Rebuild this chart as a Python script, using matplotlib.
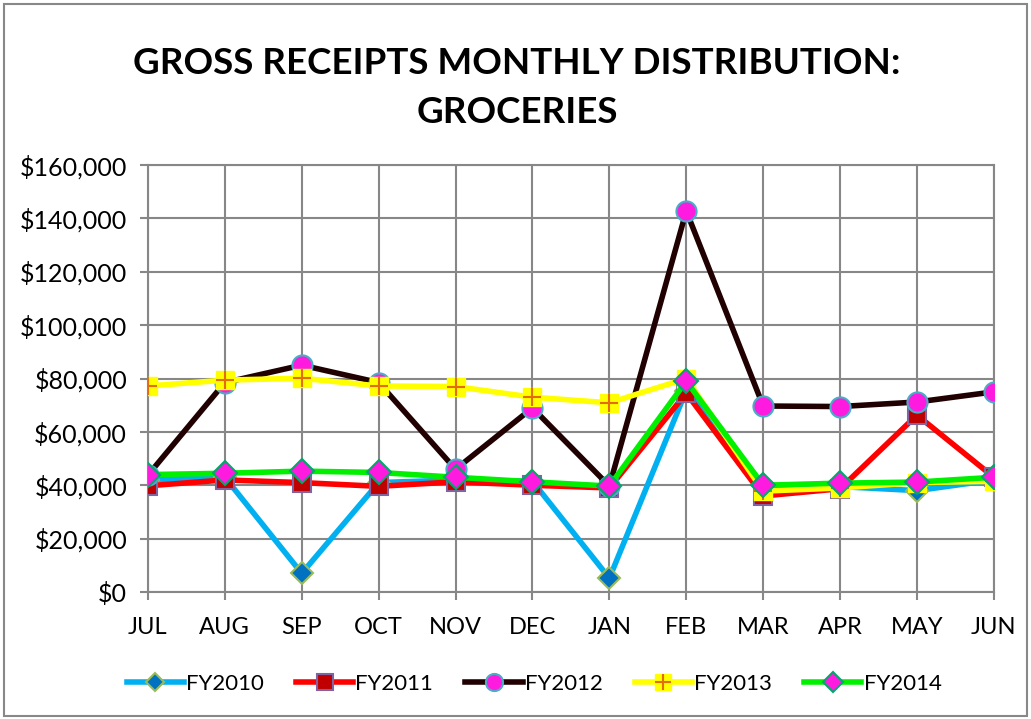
import matplotlib
matplotlib.use("Agg")
import matplotlib.pyplot as plt
from matplotlib.patches import Rectangle
from matplotlib.legend_handler import HandlerTuple

months = ["JUL", "AUG", "SEP", "OCT", "NOV", "DEC", "JAN", "FEB", "MAR", "APR", "MAY", "JUN"]
fy2010 = [42000, 43000, 7000, 41000, 42000, 41500, 5200, 75500, 40000, 39500, 38000, 42000]
fy2011 = [39800, 42000, 41000, 39600, 41300, 40000, 39000, 74500, 36000, 38700, 66300, 43000]
fy2012 = [43800, 78500, 85000, 78500, 46000, 69000, 39700, 142800, 69700, 69500, 71200, 75000]
fy2013 = [77200, 79400, 80100, 77200, 77000, 73000, 70900, 80000, 37800, 39000, 41000, 41500]
fy2014 = [44000, 44500, 45300, 44800, 43000, 41300, 39700, 79000, 40000, 40800, 41200, 43000]
yticks = [0, 20000, 40000, 60000, 80000, 100000, 120000, 140000, 160000]

plt.rcParams['font.family'] = ['Lato', 'DejaVu Sans']

fig = plt.figure(figsize=(10.31, 7.19), dpi=100)
fig.patches.append(Rectangle((0.004, 0.004), 0.992, 0.990, transform=fig.transFigure,
                             fill=False, edgecolor='#888888', linewidth=1.5))
ax = fig.add_axes([0.1435, 0.1766, 0.8205, 0.5939])
x = list(range(len(months)))

lw = 4
h10, = ax.plot(x, fy2010, color='#00B0F0', lw=lw, marker='D', ms=11,
               mfc='#0070C0', mec='#9BBB59', mew=1.5, zorder=3)
h11, = ax.plot(x, fy2011, color='#FF0000', lw=lw, marker='s', ms=13,
               mfc='#C00000', mec='#8064A2', mew=1.5, zorder=4)
h12, = ax.plot(x, fy2012, color='#200000', lw=lw, marker='o', ms=14.5,
               mfc='#FF1AE0', mec='#4BACC6', mew=1.5, zorder=5)
h13, = ax.plot(x, fy2013, color='#FFFF00', lw=lw, marker='s', ms=13,
               mfc='#FFFF00', mec='#FFFF00', mew=1, zorder=6)
h13p, = ax.plot(x, fy2013, ls='none', marker='+', ms=13, mec='#E46C0A', mew=1.5, zorder=6.1)
h14, = ax.plot(x, fy2014, color='#00F000', lw=lw, marker='D', ms=12,
               mfc='#FF1AE0', mec='#00A86B', mew=1.5, zorder=7)

ax.set_xlim(0, 11)
ax.set_ylim(0, 160000)
ax.set_yticks(yticks)
ax.set_yticklabels([f"${v:,.0f}" for v in yticks], fontsize=18)
ax.set_xticks(x)
ax.set_xticklabels(months, fontsize=17)
ax.grid(True, color='#878787', lw=1.5)
ax.set_axisbelow(True)
for s in ax.spines.values():
    s.set_color('#878787')
    s.set_linewidth(1.5)
ax.tick_params(axis='both', color='#878787', width=1.5, length=6)
ax.tick_params(axis='y', pad=9)
ax.tick_params(axis='x', pad=12)

fig.text(0.5014, 0.8776, "GROSS RECEIPTS MONTHLY DISTRIBUTION:\nGROCERIES",
         ha='center', va='center', fontsize=26.5, fontweight='bold', linespacing=1.6)

leg = fig.legend([h10, h11, h12, (h13, h13p), h14],
                 ["FY2010", "FY2011", "FY2012", "FY2013", "FY2014"],
                 handler_map={tuple: HandlerTuple(ndivide=1, pad=0)},
                 loc='center', bbox_to_anchor=(0.518, 0.0487), ncol=5, frameon=False,
                 fontsize=16, handlelength=2.57, columnspacing=1.45, handletextpad=0.1,
                 markerscale=0.85)

fig.savefig("out.png", dpi=100)
